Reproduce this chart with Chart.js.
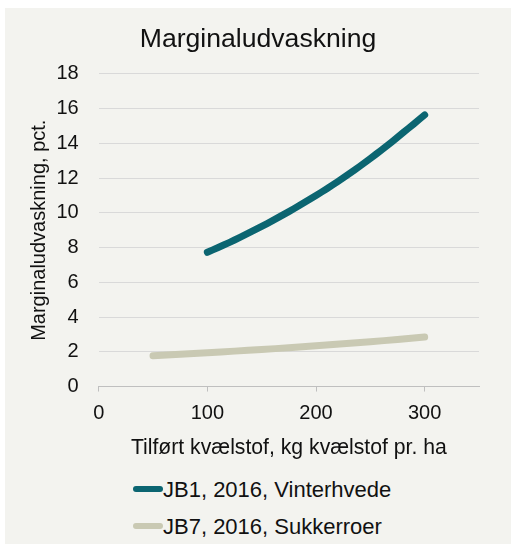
<!DOCTYPE html>
<html>
<head>
<meta charset="utf-8">
<script src="https://cdn.jsdelivr.net/npm/chart.js@4"></script>
<style>
  body { margin: 0; background: #fff; }
  #panel { position: absolute; left: 5px; top: 8px; width: 506px; height: 536px; background: #F3F3EF; }
  #chartBox { position: absolute; left: 0; top: 0; width: 506px; height: 460px; }
  #legend { position: absolute; left: 128px; top: 463px; font-family: "Liberation Sans", Arial, sans-serif; font-size: 22px; color: #111; }
  .row { height: 37px; line-height: 37px; white-space: nowrap; }
  .swatch { display: inline-block; width: 30px; height: 6px; border-radius: 3px; vertical-align: middle; position: relative; top: -2px; }
</style>
</head>
<body>
<div id="panel">
  <div id="chartBox"><canvas id="myChart" width="506" height="460"></canvas></div>
  <div id="legend"></div>
</div>
<script>
// data
const seriesNames = ['JB1, 2016, Vinterhvede', 'JB7, 2016, Sukkerroer']
const vinterhvedeN = [100, 110, 120, 130, 140, 150, 160, 170, 180, 190, 200, 210, 220, 230, 240, 250, 260, 270, 280, 290, 300]
const vinterhvedeUdv = [7.73, 8.01, 8.29, 8.59, 8.90, 9.22, 9.55, 9.90, 10.25, 10.62, 11.0, 11.39, 11.80, 12.23, 12.67, 13.13, 13.61, 14.10, 14.61, 15.12, 15.64]
const sukkerroerN = [50, 75, 100, 125, 150, 175, 200, 225, 250, 275, 300]
const sukkerroerUdv = [1.77, 1.86, 1.95, 2.04, 2.13, 2.24, 2.35, 2.46, 2.58, 2.71, 2.85]
const xTicks = [0, 100, 200, 300]
const yTicks = [0, 2, 4, 6, 8, 10, 12, 14, 16, 18]

const colors = ['#0B6571', '#C9C9B3']
const fontFam = '"Liberation Sans", Arial, sans-serif'

const toPoints = (xs, ys) => xs.map((x, i) => ({ x: x, y: ys[i] }))

const ctx = document.getElementById('myChart').getContext('2d')
const chart = new Chart(ctx, {
    type: 'line',
    data: {
        datasets: [
            {
                label: seriesNames[0],
                data: toPoints(vinterhvedeN, vinterhvedeUdv),
                borderColor: colors[0],
                backgroundColor: colors[0],
                borderWidth: 7,
                borderCapStyle: 'round',
                borderJoinStyle: 'round',
                pointRadius: 0,
                tension: 0.2
            },
            {
                label: seriesNames[1],
                data: toPoints(sukkerroerN, sukkerroerUdv),
                borderColor: colors[1],
                backgroundColor: colors[1],
                borderWidth: 7,
                borderCapStyle: 'round',
                borderJoinStyle: 'round',
                pointRadius: 0,
                tension: 0.2
            }
        ]
    },
    options: {
        responsive: false,
        animation: false,
        layout: { padding: { top: 0, right: 0, bottom: 7, left: 0 } },
        plugins: {
            legend: { display: false },
            tooltip: { enabled: false },
            title: {
                display: true,
                text: 'Marginaludvaskning',
                color: '#111',
                font: { family: fontFam, size: 26.6, weight: 'normal' },
                padding: { top: 16, bottom: 18 }
            }
        },
        scales: {
            x: {
                type: 'linear',
                min: 0,
                max: 350,
                afterBuildTicks: (axis) => {
                    axis.ticks = xTicks.map(v => ({ value: v }))
                },
                ticks: {
                    color: '#111',
                    padding: 12,
                    maxRotation: 0,
                    font: { family: fontFam, size: 20, lineHeight: 1 }
                },
                grid: { drawOnChartArea: false, drawTicks: true, tickLength: 5, color: '#BFBFBF' },
                border: { display: true, color: '#BFBFBF' },
                title: {
                    display: true,
                    text: 'Tilført kvælstof, kg kvælstof pr. ha',
                    color: '#111',
                    font: { family: fontFam, size: 21.2 },
                    padding: { top: 0, bottom: 0 }
                }
            },
            y: {
                min: 0,
                max: 18,
                afterBuildTicks: (axis) => {
                    axis.ticks = yTicks.map(v => ({ value: v }))
                },
                afterFit: (axis) => { axis.width = 93.7 },
                ticks: {
                    color: '#111',
                    padding: 20,
                    font: { family: fontFam, size: 20 }
                },
                grid: { drawTicks: false, color: '#D9D9D9', lineWidth: 1 },
                border: { display: false },
                title: {
                    display: true,
                    text: 'Marginaludvaskning, pct.',
                    color: '#111',
                    font: { family: fontFam, size: 20 },
                    padding: { top: 22, bottom: 5 }
                }
            },
            // empty right-hand axis, only keeps the plot area off the right edge
            yRight: {
                position: 'right',
                display: true,
                afterFit: (axis) => { axis.width = 32 },
                grid: { display: false },
                ticks: { display: false },
                border: { display: false }
            }
        }
    }
})

// legend stacked underneath, like the original
const legend = document.getElementById('legend')
chart.data.datasets.forEach(ds => {
    const row = document.createElement('div')
    row.className = 'row'
    const sw = document.createElement('span')
    sw.className = 'swatch'
    sw.style.background = ds.borderColor
    row.appendChild(sw)
    row.appendChild(document.createTextNode(ds.label))
    legend.appendChild(row)
})
</script>
</body>
</html>
